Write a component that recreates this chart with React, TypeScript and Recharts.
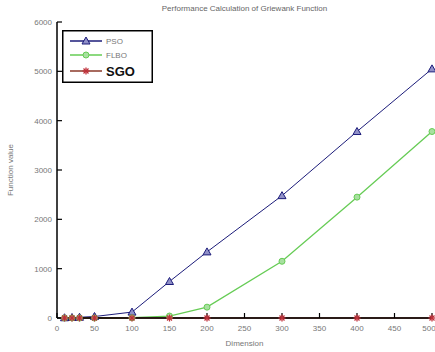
import React from 'react';
import { LineChart, Line, XAxis, YAxis, Legend } from 'recharts';

const dims = [10, 20, 30, 50, 100, 150, 200, 300, 400, 500];
const psoValues = [5, 10, 15, 30, 120, 740, 1340, 2480, 3780, 5050];
const flboValues = [0, 0, 0, 0, 5, 40, 220, 1150, 2450, 3780];
const sgoValues = [0, 0, 0, 0, 0, 0, 0, 0, 0, 0];
const xTicks = [0, 50, 100, 150, 200, 250, 300, 350, 400, 450, 500];
const yTicks = [0, 1000, 2000, 3000, 4000, 5000, 6000];

const data = dims.map((d, i) => ({ dim: d, PSO: psoValues[i], FLBO: flboValues[i], SGO: sgoValues[i] }));

const FONT = 'Liberation Sans, Arial, sans-serif';
const PSO_C = '#1c1c7a';
const FLBO_C = '#66cc55';
const SGO_C = '#8b3a2a';
const SGO_M = '#c0303a';
const AX = { stroke: '#000', strokeWidth: 1.5 };
const TL = { stroke: '#000', strokeWidth: 1.2 };

const Tri = (props: any) => {
  const { cx, cy } = props;
  if (cx == null || cy == null) return null;
  return <path d={`M${cx},${cy - 4} L${cx + 4},${cy + 3} L${cx - 4},${cy + 3} Z`} fill="#9090c8" stroke={PSO_C} strokeWidth={1} />;
};
const Circ = (props: any) => {
  const { cx, cy } = props;
  if (cx == null || cy == null) return null;
  return <circle cx={cx} cy={cy} r={3} fill="#a8e0a0" stroke={FLBO_C} strokeWidth={1} />;
};
const Star = (props: any) => {
  const { cx, cy } = props;
  if (cx == null || cy == null) return null;
  return (
    <g stroke={SGO_M} strokeWidth={1.3}>
      <line x1={cx - 3.5} x2={cx + 3.5} y1={cy} y2={cy} />
      <line x1={cx} x2={cx} y1={cy - 3.5} y2={cy + 3.5} />
      <line x1={cx - 2.5} x2={cx + 2.5} y1={cy - 2.5} y2={cy + 2.5} />
      <line x1={cx - 2.5} x2={cx + 2.5} y1={cy + 2.5} y2={cy - 2.5} />
    </g>
  );
};

const LegendBox = () => {
  const rows = [
    { name: 'PSO', color: PSO_C, y: 11, kind: 'tri' },
    { name: 'FLBO', color: FLBO_C, y: 25, kind: 'circ' },
    { name: 'SGO', color: SGO_C, y: 41, kind: 'star' },
  ];
  return (
    <svg width={91} height={53} style={{ display: 'block' }}>
      <rect x={0.75} y={0.75} width={89.5} height={51.5} fill="#fff" stroke="#000" strokeWidth={1.5} />
      {rows.map((r) => (
        <g key={r.name}>
          <line x1={8} x2={40} y1={r.y} y2={r.y} stroke={r.color} strokeWidth={1.5} />
          {r.kind === 'tri' && <Tri cx={24} cy={r.y} />}
          {r.kind === 'circ' && <Circ cx={24} cy={r.y} />}
          {r.kind === 'star' && <Star cx={24} cy={r.y} />}
          <text
            x={44}
            y={r.y}
            dy={r.kind === 'star' ? 5 : 3}
            fontFamily={FONT}
            fontSize={r.kind === 'star' ? 13 : 8}
            fontWeight={r.kind === 'star' ? 'bold' : 'normal'}
            fill={r.kind === 'star' ? '#111' : '#777'}
          >
            {r.name}
          </text>
        </g>
      ))}
    </svg>
  );
};

export default function App() {
  return (
    <div style={{ position: 'absolute', left: 0, top: 0, width: 435, height: 352, background: '#fff' }}>
      <div
        style={{
          position: 'absolute',
          left: 57,
          width: 375,
          top: 4,
          textAlign: 'center',
          fontFamily: FONT,
          fontSize: 8,
          color: '#666',
        }}
      >
        Performance Calculation of Griewank Function
      </div>
      <LineChart width={435} height={352} data={data} margin={{ top: 22, right: 3, left: 0, bottom: 0 }}>
        <XAxis
          xAxisId="b"
          dataKey="dim"
          type="number"
          domain={[0, 500]}
          ticks={xTicks}
          height={34}
          tickSize={-5}
          tickMargin={12}
          axisLine={AX}
          tickLine={TL}
          tick={{ fontSize: 8, fill: '#777', fontFamily: FONT }}
          label={{ value: 'Dimension', position: 'insideBottom', offset: 6, fontSize: 8, fill: '#777', fontFamily: FONT }}
        />
        <XAxis
          xAxisId="t"
          orientation="top"
          dataKey="dim"
          type="number"
          domain={[0, 500]}
          ticks={xTicks}
          height={0}
          tickSize={-5}
          axisLine={AX}
          tickLine={TL}
          tickFormatter={() => ''}
        />
        <YAxis
          yAxisId="l"
          type="number"
          domain={[0, 6000]}
          ticks={yTicks}
          width={57}
          tickSize={-5}
          tickMargin={10}
          axisLine={AX}
          tickLine={TL}
          tick={{ fontSize: 8, fill: '#777', fontFamily: FONT }}
          label={{ value: 'Function value', angle: -90, position: 'insideLeft', offset: 10, fontSize: 8, fill: '#777', fontFamily: FONT, style: { textAnchor: 'middle' } }}
        />
        <YAxis
          yAxisId="r"
          orientation="right"
          type="number"
          domain={[0, 6000]}
          ticks={yTicks}
          width={0}
          tickSize={-5}
          axisLine={AX}
          tickLine={TL}
          tickFormatter={() => ''}
        />
        <Legend
          layout="horizontal"
          verticalAlign="middle"
          align="center"
          content={<LegendBox />}
          wrapperStyle={{ position: 'absolute', left: 62, top: 30, width: 91, height: 53 }}
        />
        <Line xAxisId="b" yAxisId="l" dataKey="PSO" stroke={PSO_C} strokeWidth={1} dot={<Tri />} isAnimationActive={false} />
        <Line xAxisId="b" yAxisId="l" dataKey="FLBO" stroke={FLBO_C} strokeWidth={1.3} dot={<Circ />} isAnimationActive={false} />
        <Line xAxisId="b" yAxisId="l" dataKey="SGO" stroke={SGO_C} strokeWidth={1.3} dot={<Star />} isAnimationActive={false} />
      </LineChart>
    </div>
  );
}
